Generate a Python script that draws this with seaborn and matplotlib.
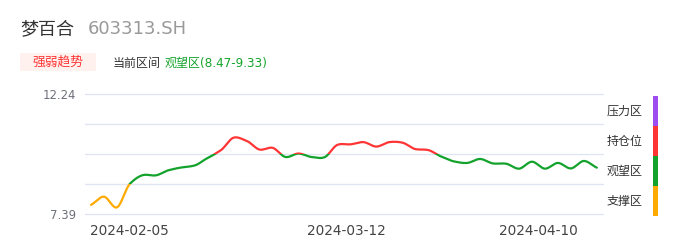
import numpy as np
import pandas as pd
import matplotlib
matplotlib.use("Agg")
import matplotlib.pyplot as plt
from matplotlib.patches import Rectangle
from matplotlib.transforms import ScaledTranslation
import seaborn as sns

# ---------------- data ----------------
stock_name = "梦百合"
stock_code = "603313.SH"
badge_text = "强弱趋势"
current_label = "当前区间"
current_zone = "观望区(8.47-9.33)"

dates = ["2024-02-05", "2024-02-06", "2024-02-07", "2024-02-08", "2024-02-19",
         "2024-02-20", "2024-02-21", "2024-02-22", "2024-02-23", "2024-02-26",
         "2024-02-27", "2024-02-28", "2024-02-29", "2024-03-01", "2024-03-04",
         "2024-03-05", "2024-03-06", "2024-03-07", "2024-03-08", "2024-03-11",
         "2024-03-12", "2024-03-13", "2024-03-14", "2024-03-15", "2024-03-18",
         "2024-03-19", "2024-03-20", "2024-03-21", "2024-03-22", "2024-03-25",
         "2024-03-26", "2024-03-27", "2024-03-28", "2024-03-29", "2024-04-01",
         "2024-04-02", "2024-04-03", "2024-04-08", "2024-04-09", "2024-04-10"]
prices = [7.77, 8.10, 7.67, 8.62, 8.97, 8.96, 9.17, 9.28, 9.36, 9.66,
          9.97, 10.48, 10.35, 10.00, 10.07, 9.70, 9.84, 9.70, 9.69, 10.19,
          10.21, 10.30, 10.12, 10.30, 10.28, 10.02, 9.98, 9.72, 9.52, 9.46,
          9.62, 9.44, 9.43, 9.23, 9.51, 9.23, 9.46, 9.24, 9.54, 9.27]
xtick_labels = ["2024-02-05", "2024-03-12", "2024-04-10"]
ytick_values = [12.24, 11.0275, 9.815, 8.6025, 7.39]
ytick_labels = ["12.24", "", "", "", "7.39"]
zone_bounds = [8.6025, 9.815]
legend_labels = ["压力区", "持仓位", "观望区", "支撑区"]

# ---------------- style ----------------
sns.set_theme(style="white")
plt.rcParams["font.family"] = ["DejaVu Sans", "Noto Sans CJK SC"]

C_PURPLE = "#9d4cf0"
C_RED = "#ff3535"
C_GREEN = "#13a22b"
C_ORANGE = "#ffaa00"
GRID = "#e0e6f1"

W, H = 686, 247
fig = plt.figure(figsize=(W / 100, H / 100), dpi=100)
fig.patch.set_facecolor("white")

def fx(px):
    return px / W

def fy(py):
    return 1 - py / H

# axes placement (pixels)
ax_l, ax_r, ax_t, ax_b = 85, 603, 94, 214.3
ax = fig.add_axes([fx(ax_l), fy(ax_b), fx(ax_r - ax_l), (ax_b - ax_t) / H])
ax.set_facecolor("white")

# ---------------- smooth curve (drawing only) ----------------
n = len(prices)
xi = np.arange(n, dtype=float)
yi = np.array(prices)
tang = np.zeros(n)
tang[1:-1] = (yi[2:] - yi[:-2]) / 2.0
tang[0] = yi[1] - yi[0]
tang[-1] = yi[-1] - yi[-2]
tang *= 0.8
xs, ys = [], []
for k in range(n - 1):
    t = np.linspace(0, 1, 40, endpoint=False)
    h00 = 2 * t**3 - 3 * t**2 + 1
    h10 = t**3 - 2 * t**2 + t
    h01 = -2 * t**3 + 3 * t**2
    h11 = t**3 - t**2
    xs.append(xi[k] + t)
    ys.append(h00 * yi[k] + h10 * tang[k] + h01 * yi[k + 1] + h11 * tang[k + 1])
xs.append([xi[-1]])
ys.append([yi[-1]])
curve = pd.DataFrame({"x": np.concatenate(xs), "y": np.concatenate(ys)})

ymin, ymax = 7.39, 12.24
ax.set_ylim(ymin, ymax)
ax.set_xlim((ax_l - 91) / 12.97, (ax_r - 91) / 12.97)

bands = [(-100, zone_bounds[0], C_ORANGE),
         (zone_bounds[0], zone_bounds[1], C_GREEN),
         (zone_bounds[1], 100, C_RED)]
for lo, hi, col in bands:
    before = len(ax.lines)
    sns.lineplot(data=curve, x="x", y="y", ax=ax, color=col, linewidth=1.6,
                 sort=False, estimator=None, legend=False)
    clip = Rectangle((-10, lo), 100, hi - lo, transform=ax.transData)
    for ln in ax.lines[before:]:
        ln.set_clip_path(clip)
        ln.set_solid_capstyle("round")
        ln.set_zorder(3)

# grid
for v in ytick_values:
    ax.axhline(v, color=GRID, linewidth=1.0, zorder=1, clip_on=False)
for s in ax.spines.values():
    s.set_visible(False)

ax.set_yticks(ytick_values)
ax.set_yticklabels(ytick_labels)
ax.tick_params(axis="y", length=0, pad=6.5, labelsize=8.4, labelcolor="#6e7079")
ax.set_xlabel("")
ax.set_ylabel("")

tick_idx = [dates.index(d) for d in xtick_labels]
ax.set_xticks(tick_idx)
ax.set_xticklabels(xtick_labels)
ax.tick_params(axis="x", length=0, pad=7, labelsize=9.8, labelcolor="#444444")
xl = ax.get_xticklabels()
offsets = [(-1, "left"), (-4, "center"), (-19, "right")]
for lab, (dx, ha) in zip(xl, offsets):
    lab.set_ha(ha)
    lab.set_transform(lab.get_transform() + ScaledTranslation(dx / 100, 0, fig.dpi_scale_trans))

# ---------------- header ----------------
fig.text(fx(20), fy(29), stock_name, fontsize=13, color="#333333", va="center", ha="left")
fig.text(fx(88), fy(29), stock_code, fontsize=13, color="#999999", va="center", ha="left")

fig.patches.append(Rectangle((fx(20), fy(71)), fx(76), (71 - 53) / H,
                             transform=fig.transFigure, facecolor="#fff1ee",
                             edgecolor="none"))
fig.text(fx(58), fy(62), badge_text, fontsize=9.2, color="#ff3535", va="center", ha="center")
fig.text(fx(113), fy(63), current_label, fontsize=8.64, color="#333333", va="center", ha="left")
fig.text(fx(165), fy(63), current_zone, fontsize=8.64, color="#15a32b", va="center", ha="left")

# ---------------- right legend ----------------
leg_cols = [C_PURPLE, C_RED, C_GREEN, C_ORANGE]
for k, (lab, col) in enumerate(zip(legend_labels, leg_cols)):
    top = 96 + 30 * k
    fig.patches.append(Rectangle((fx(653), fy(top + 30)), fx(4.8), 30 / H,
                                 transform=fig.transFigure, facecolor=col,
                                 edgecolor="none"))
    fig.text(fx(607), fy(top + 15.5), lab, fontsize=8.64, color="#333333",
             va="center", ha="left")

fig.savefig("out.png", dpi=100, facecolor="white")
